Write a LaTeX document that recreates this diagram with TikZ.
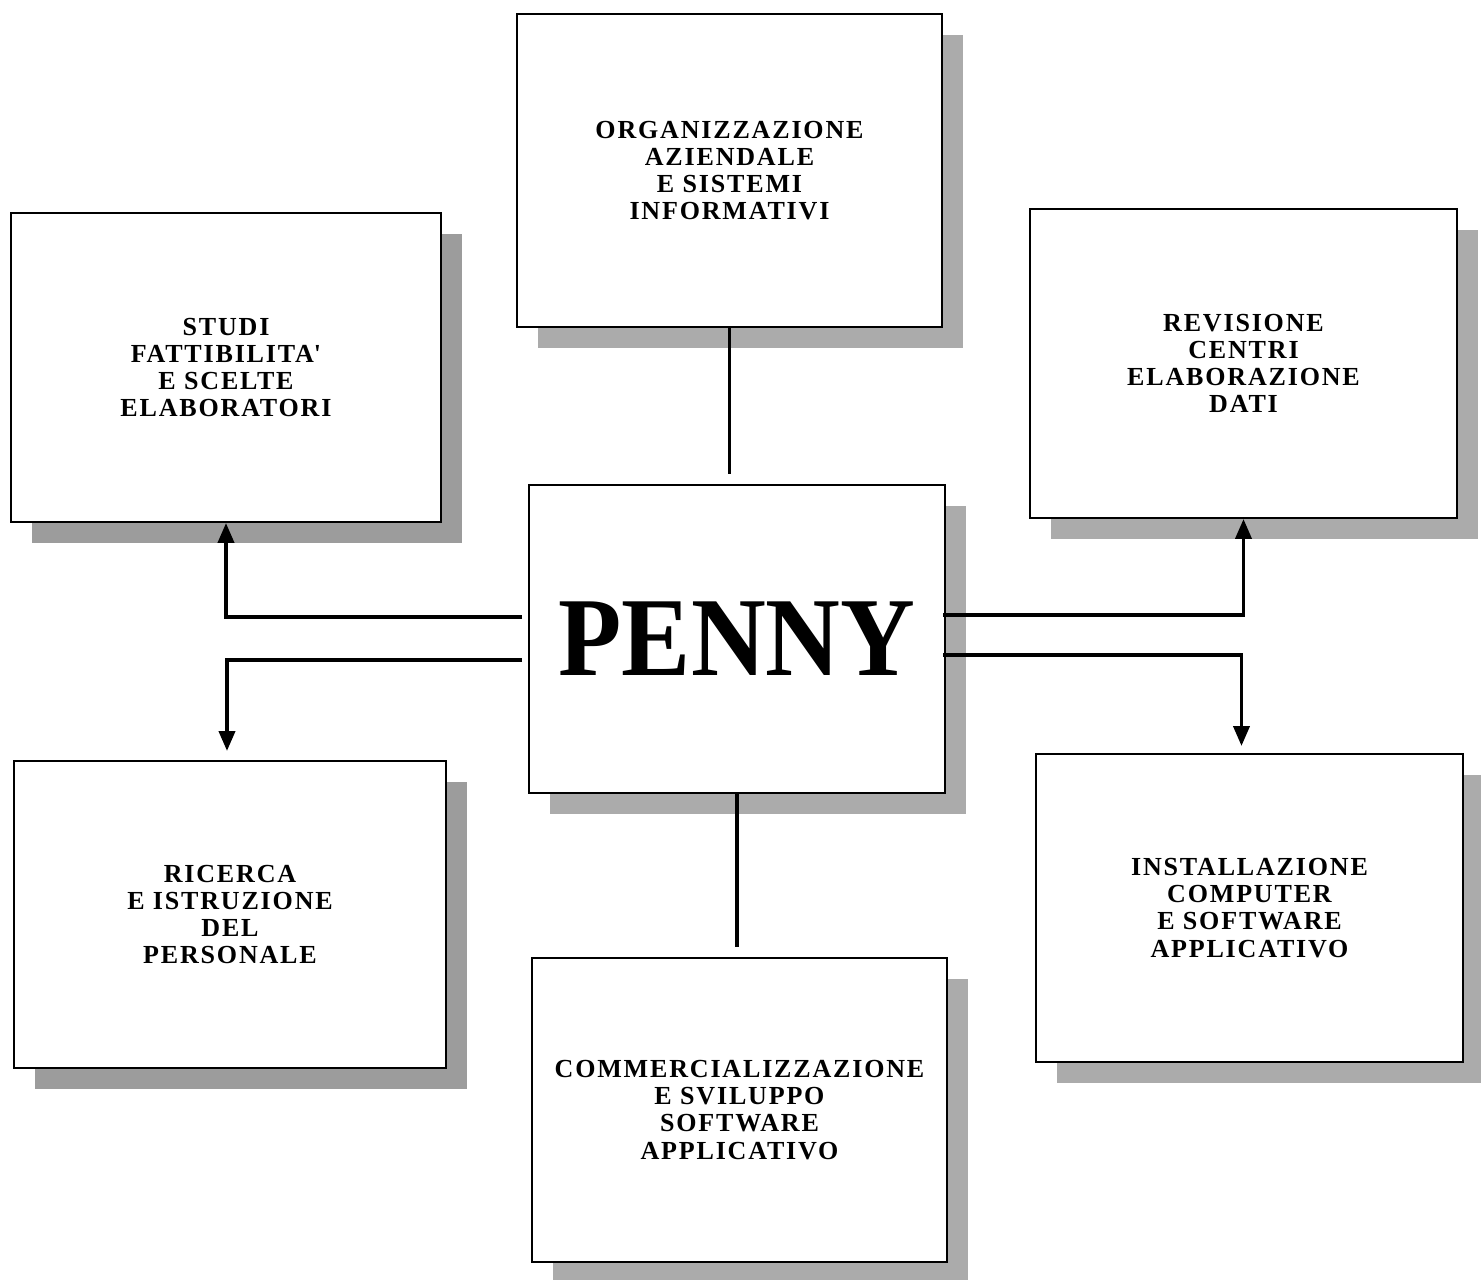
\documentclass[tikz,border=0pt]{standalone}
\usepackage{fontspec}
\setmainfont{Liberation Serif}
\usetikzlibrary{arrows.meta,shadows}
\definecolor{PYShade}{HTML}{ABABAB}
\definecolor{PYShadeDark}{HTML}{9C9C9C}

\begin{document}
\begin{tikzpicture}[x=0.01cm,y=-0.01cm,
  area/.style={draw=black,line width=0.5pt,fill=white,inner sep=0pt,align=center,
    font=\fontsize{7.4}{7.7}\selectfont\bfseries\addfontfeature{LetterSpace=7},
    drop shadow={shadow xshift=0.21cm,shadow yshift=-0.21cm,fill=#1,opacity=1}},
  area/.default=PYShade,
  link/.style={line width=1.1pt,-{Triangle[length=0.2cm,width=0.16cm]}},
  bar/.style={line width=1.1pt,shorten >=0.1cm}]
\path[use as bounding box] (0,0) rectangle (1481,1280);
\node[area,minimum width=4.25cm,minimum height=3.13cm] (org) at (729.5,170.5)
  {ORGANIZZAZIONE\\AZIENDALE\\E SISTEMI\\INFORMATIVI};
\node[area=PYShadeDark,minimum width=4.30cm,minimum height=3.09cm] (studi) at (226,367.5)
  {STUDI\\FATTIBILITA\textquotesingle\\E SCELTE\\ELABORATORI};
\node[area,minimum width=4.27cm,minimum height=3.09cm] (rev) at (1243.5,363.5)
  {REVISIONE\\CENTRI\\ELABORAZIONE\\DATI};
\node[area,minimum width=4.16cm,minimum height=3.08cm,
  font=\fontsize{32}{36}\selectfont\bfseries\addfontfeature{FakeStretch=0.92}] (penny) at (737,639) {PENNY};
\node[area=PYShadeDark,minimum width=4.32cm,minimum height=3.07cm] (ric) at (230,914.5)
  {RICERCA\\E ISTRUZIONE\\DEL\\PERSONALE};
\node[area,minimum width=4.27cm,minimum height=3.08cm] (inst) at (1249.5,908)
  {INSTALLAZIONE\\COMPUTER\\E SOFTWARE\\APPLICATIVO};
\node[area,minimum width=4.15cm,minimum height=3.04cm] (comm) at (739.5,1110)
  {COMMERCIALIZZAZIONE\\E SVILUPPO\\SOFTWARE\\APPLICATIVO};
\draw[bar] (org.south) -- (org.south |- penny.north);
\draw[bar] (penny.south) -- (penny.south |- comm.north);
\draw[link,shorten <=0.06cm] ([yshift=0.22cm]penny.west) -| (studi.south);
\draw[link,shorten <=0.06cm,shorten >=0.09cm] ([yshift=-0.21cm]penny.west) -| ([xshift=-0.03cm]ric.north);
\draw[link,shorten <=-0.03cm] ([yshift=0.24cm]penny.east) -| (rev.south);
\draw[link,shorten <=-0.03cm,shorten >=0.07cm] ([yshift=-0.16cm]penny.east) -| ([xshift=-0.08cm]inst.north);
\end{tikzpicture}
\end{document}
